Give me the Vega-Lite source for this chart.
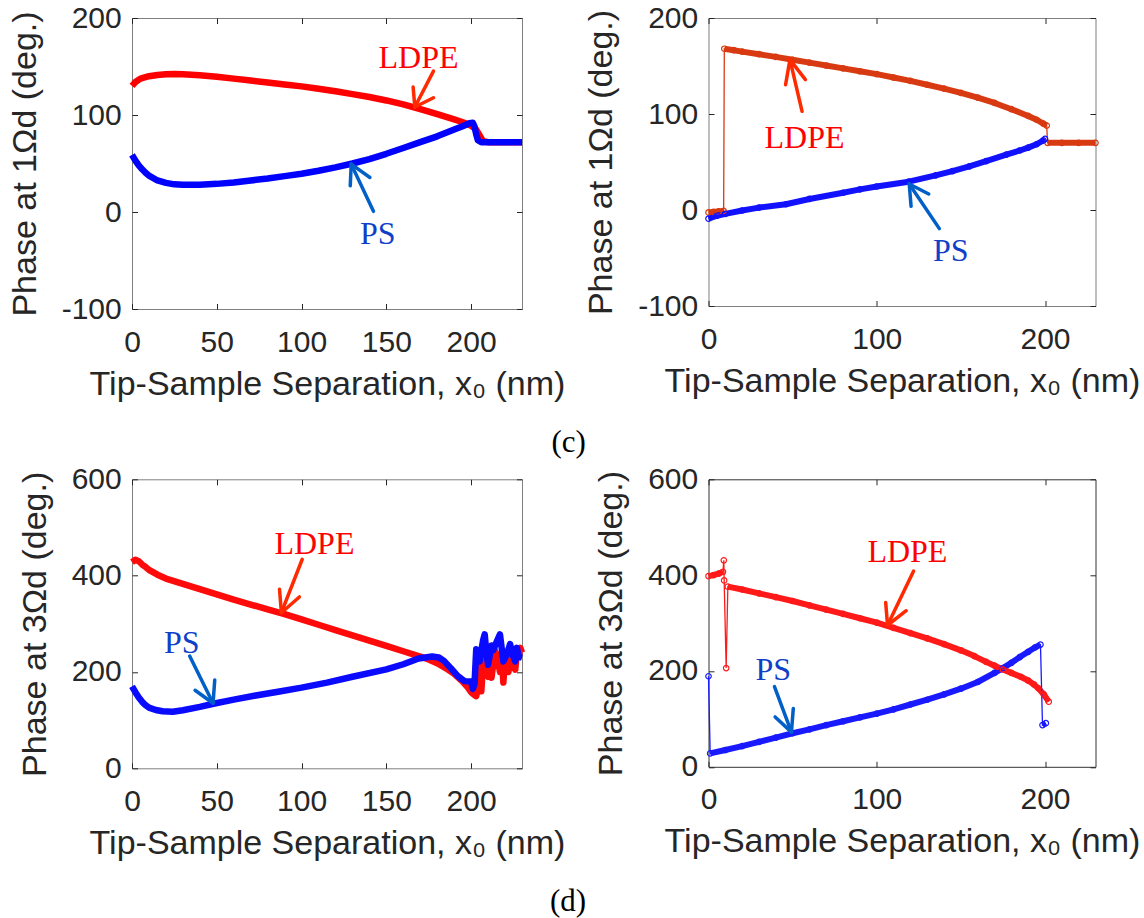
{
"$schema": "https://vega.github.io/schema/vega-lite/v6.json",
"background": "white",
"padding": {"left": 7, "top": 2, "right": 0, "bottom": 0},
"config": {
  "font": "Liberation Sans",
  "view": {"stroke": "#7f7f7f", "strokeWidth": 1},
  "axis": {"grid": false, "domain": false, "labelFlush": false, "labelFont": "Liberation Sans", "labelFontSize": 30, "labelColor": "#262626", "titleFont": "Liberation Sans", "titleFontSize": 34, "titleFontWeight": "normal", "titleColor": "#262626", "tickColor": "#262626", "tickSize": -5.5, "tickWidth": 1},
  "axisX": {"labelPadding": 23.5, "titlePadding": 10},
  "axisY": {"labelPadding": 16.3, "titlePadding": 19}
},
"datasets": {
  "c1": [
    {"m":"LDPE","s":1,"x":0,"y":130},{"m":"LDPE","s":1,"x":2,"y":134},{"m":"LDPE","s":1,"x":5,"y":137.5},{"m":"LDPE","s":1,"x":10,"y":140},{"m":"LDPE","s":1,"x":15,"y":141.3},{"m":"LDPE","s":1,"x":20,"y":142},{"m":"LDPE","s":1,"x":25,"y":142.2},{"m":"LDPE","s":1,"x":30,"y":142},{"m":"LDPE","s":1,"x":40,"y":141},{"m":"LDPE","s":1,"x":50,"y":139.5},{"m":"LDPE","s":1,"x":60,"y":137.5},{"m":"LDPE","s":1,"x":70,"y":135.5},{"m":"LDPE","s":1,"x":80,"y":133.5},{"m":"LDPE","s":1,"x":90,"y":131.5},{"m":"LDPE","s":1,"x":100,"y":129.5},{"m":"LDPE","s":1,"x":110,"y":127},{"m":"LDPE","s":1,"x":120,"y":124.5},{"m":"LDPE","s":1,"x":130,"y":121.5},{"m":"LDPE","s":1,"x":140,"y":118.5},{"m":"LDPE","s":1,"x":150,"y":115},{"m":"LDPE","s":1,"x":160,"y":111},{"m":"LDPE","s":1,"x":170,"y":106},{"m":"LDPE","s":1,"x":180,"y":101},{"m":"LDPE","s":1,"x":190,"y":95.5},{"m":"LDPE","s":1,"x":196,"y":92},{"m":"LDPE","s":1,"x":200,"y":89},{"m":"LDPE","s":1,"x":203,"y":85},{"m":"LDPE","s":1,"x":205,"y":79},{"m":"LDPE","s":1,"x":207,"y":73},{"m":"LDPE","s":1,"x":210,"y":72},{"m":"LDPE","s":1,"x":230,"y":72},
    {"m":"PS","s":2,"x":0,"y":59},{"m":"PS","s":2,"x":2,"y":53},{"m":"PS","s":2,"x":4,"y":48},{"m":"PS","s":2,"x":6,"y":44},{"m":"PS","s":2,"x":8,"y":40.5},{"m":"PS","s":2,"x":10,"y":37.5},{"m":"PS","s":2,"x":15,"y":32.5},{"m":"PS","s":2,"x":20,"y":30},{"m":"PS","s":2,"x":25,"y":28.5},{"m":"PS","s":2,"x":30,"y":28},{"m":"PS","s":2,"x":40,"y":28.2},{"m":"PS","s":2,"x":50,"y":29},{"m":"PS","s":2,"x":60,"y":30.5},{"m":"PS","s":2,"x":70,"y":32.5},{"m":"PS","s":2,"x":80,"y":34.5},{"m":"PS","s":2,"x":90,"y":37},{"m":"PS","s":2,"x":100,"y":39.5},{"m":"PS","s":2,"x":110,"y":42.5},{"m":"PS","s":2,"x":120,"y":46},{"m":"PS","s":2,"x":130,"y":50},{"m":"PS","s":2,"x":140,"y":54.5},{"m":"PS","s":2,"x":150,"y":60},{"m":"PS","s":2,"x":160,"y":66},{"m":"PS","s":2,"x":170,"y":72},{"m":"PS","s":2,"x":180,"y":78},{"m":"PS","s":2,"x":190,"y":85},{"m":"PS","s":2,"x":195,"y":88.5},{"m":"PS","s":2,"x":199,"y":91.5},{"m":"PS","s":2,"x":201,"y":92},{"m":"PS","s":2,"x":202,"y":88},{"m":"PS","s":2,"x":203,"y":80},{"m":"PS","s":2,"x":204,"y":74},{"m":"PS","s":2,"x":206,"y":72},{"m":"PS","s":2,"x":230,"y":72}
  ],
  "c2": [
    {"m":"LDPE","s":1,"x":0,"y":-2.5},{"m":"LDPE","s":1,"x":3,"y":-2},{"m":"LDPE","s":1,"x":6,"y":-1.5},{"m":"LDPE","s":1,"x":9,"y":-1},
    {"m":"LDPE","s":2,"x":9.4,"y":168},{"m":"LDPE","s":2,"x":15,"y":166.5},{"m":"LDPE","s":2,"x":20,"y":165},{"m":"LDPE","s":2,"x":30,"y":162.3},{"m":"LDPE","s":2,"x":40,"y":159.5},{"m":"LDPE","s":2,"x":50,"y":156.5},{"m":"LDPE","s":2,"x":60,"y":153.5},{"m":"LDPE","s":2,"x":70,"y":150.5},{"m":"LDPE","s":2,"x":80,"y":147.5},{"m":"LDPE","s":2,"x":90,"y":144.5},{"m":"LDPE","s":2,"x":100,"y":141.5},{"m":"LDPE","s":2,"x":110,"y":138},{"m":"LDPE","s":2,"x":120,"y":134.5},{"m":"LDPE","s":2,"x":130,"y":130.5},{"m":"LDPE","s":2,"x":140,"y":126.5},{"m":"LDPE","s":2,"x":150,"y":122},{"m":"LDPE","s":2,"x":160,"y":117},{"m":"LDPE","s":2,"x":170,"y":111.5},{"m":"LDPE","s":2,"x":180,"y":105},{"m":"LDPE","s":2,"x":190,"y":98},{"m":"LDPE","s":2,"x":195,"y":94},{"m":"LDPE","s":2,"x":199,"y":90},{"m":"LDPE","s":2,"x":201,"y":88},
    {"m":"LDPE","s":3,"x":201.5,"y":70},{"m":"LDPE","s":3,"x":210,"y":70},{"m":"LDPE","s":3,"x":220,"y":70},{"m":"LDPE","s":3,"x":230,"y":70},
    {"m":"PS","s":4,"x":0,"y":-9},{"m":"PS","s":4,"x":5,"y":-6},{"m":"PS","s":4,"x":10,"y":-4},{"m":"PS","s":4,"x":20,"y":-0.5},{"m":"PS","s":4,"x":30,"y":2.5},{"m":"PS","s":4,"x":46,"y":6},{"m":"PS","s":4,"x":60,"y":11.5},{"m":"PS","s":4,"x":80,"y":18},{"m":"PS","s":4,"x":90,"y":21.5},{"m":"PS","s":4,"x":100,"y":24.5},{"m":"PS","s":4,"x":119,"y":29.5},{"m":"PS","s":4,"x":135,"y":36},{"m":"PS","s":4,"x":145,"y":40.5},{"m":"PS","s":4,"x":155,"y":45.5},{"m":"PS","s":4,"x":165,"y":51},{"m":"PS","s":4,"x":177,"y":57.6},{"m":"PS","s":4,"x":185,"y":62},{"m":"PS","s":4,"x":190,"y":65},{"m":"PS","s":4,"x":195,"y":68.5},{"m":"PS","s":4,"x":199,"y":72.5},{"m":"PS","s":4,"x":200,"y":74}
  ],
  "d1": [
    {"m":"LDPE","s":1,"x":0,"y":428},{"m":"LDPE","s":1,"x":2,"y":433},{"m":"LDPE","s":1,"x":4,"y":430},{"m":"LDPE","s":1,"x":6,"y":423},{"m":"LDPE","s":1,"x":8,"y":418},{"m":"LDPE","s":1,"x":10,"y":412},{"m":"LDPE","s":1,"x":15,"y":402},{"m":"LDPE","s":1,"x":20,"y":394},{"m":"LDPE","s":1,"x":30,"y":383},{"m":"LDPE","s":1,"x":40,"y":372},{"m":"LDPE","s":1,"x":50,"y":361},{"m":"LDPE","s":1,"x":60,"y":350},{"m":"LDPE","s":1,"x":70,"y":340},{"m":"LDPE","s":1,"x":80,"y":330},{"m":"LDPE","s":1,"x":90,"y":320},{"m":"LDPE","s":1,"x":100,"y":309},{"m":"LDPE","s":1,"x":110,"y":298},{"m":"LDPE","s":1,"x":120,"y":287},{"m":"LDPE","s":1,"x":130,"y":276},{"m":"LDPE","s":1,"x":140,"y":265},{"m":"LDPE","s":1,"x":150,"y":254},{"m":"LDPE","s":1,"x":160,"y":243},{"m":"LDPE","s":1,"x":170,"y":232},{"m":"LDPE","s":1,"x":175,"y":226},{"m":"LDPE","s":1,"x":180,"y":218},{"m":"LDPE","s":1,"x":185,"y":208},{"m":"LDPE","s":1,"x":190,"y":196},{"m":"LDPE","s":1,"x":195,"y":180},{"m":"LDPE","s":1,"x":198,"y":168},{"m":"LDPE","s":1,"x":200,"y":158},{"m":"LDPE","s":1,"x":202,"y":152},{"m":"LDPE","s":1,"x":203,"y":150},{"m":"LDPE","s":1,"x":204,"y":165},{"m":"LDPE","s":1,"x":205,"y":245},{"m":"LDPE","s":1,"x":206,"y":160},{"m":"LDPE","s":1,"x":207,"y":215},{"m":"LDPE","s":1,"x":208,"y":250},{"m":"LDPE","s":1,"x":209,"y":200},{"m":"LDPE","s":1,"x":210,"y":190},{"m":"LDPE","s":1,"x":211,"y":235},{"m":"LDPE","s":1,"x":212,"y":188},{"m":"LDPE","s":1,"x":213,"y":215},{"m":"LDPE","s":1,"x":214,"y":245},{"m":"LDPE","s":1,"x":216,"y":220},{"m":"LDPE","s":1,"x":217,"y":200},{"m":"LDPE","s":1,"x":218,"y":240},{"m":"LDPE","s":1,"x":219,"y":178},{"m":"LDPE","s":1,"x":220,"y":230},{"m":"LDPE","s":1,"x":221,"y":215},{"m":"LDPE","s":1,"x":222,"y":200},{"m":"LDPE","s":1,"x":223,"y":245},{"m":"LDPE","s":1,"x":224,"y":230},{"m":"LDPE","s":1,"x":225,"y":210},{"m":"LDPE","s":1,"x":226,"y":205},{"m":"LDPE","s":1,"x":227,"y":240},{"m":"LDPE","s":1,"x":228,"y":230},{"m":"LDPE","s":1,"x":229,"y":250},{"m":"LDPE","s":1,"x":230,"y":240},
    {"m":"PS","s":2,"x":0,"y":170},{"m":"PS","s":2,"x":2,"y":158},{"m":"PS","s":2,"x":4,"y":147},{"m":"PS","s":2,"x":6,"y":138},{"m":"PS","s":2,"x":8,"y":131},{"m":"PS","s":2,"x":10,"y":126},{"m":"PS","s":2,"x":14,"y":121},{"m":"PS","s":2,"x":18,"y":118.5},{"m":"PS","s":2,"x":24,"y":117.5},{"m":"PS","s":2,"x":30,"y":120.5},{"m":"PS","s":2,"x":40,"y":127.5},{"m":"PS","s":2,"x":48,"y":134},{"m":"PS","s":2,"x":60,"y":142.5},{"m":"PS","s":2,"x":73,"y":151},{"m":"PS","s":2,"x":87,"y":159.5},{"m":"PS","s":2,"x":100,"y":167.5},{"m":"PS","s":2,"x":115,"y":178},{"m":"PS","s":2,"x":130,"y":190},{"m":"PS","s":2,"x":150,"y":205.5},{"m":"PS","s":2,"x":160,"y":216},{"m":"PS","s":2,"x":169,"y":228},{"m":"PS","s":2,"x":177,"y":232},{"m":"PS","s":2,"x":181,"y":230},{"m":"PS","s":2,"x":184,"y":223},{"m":"PS","s":2,"x":188,"y":208},{"m":"PS","s":2,"x":192,"y":192},{"m":"PS","s":2,"x":196,"y":181},{"m":"PS","s":2,"x":200,"y":180},{"m":"PS","s":2,"x":201,"y":165},{"m":"PS","s":2,"x":202,"y":175},{"m":"PS","s":2,"x":203,"y":247},{"m":"PS","s":2,"x":205,"y":222},{"m":"PS","s":2,"x":207,"y":265},{"m":"PS","s":2,"x":208,"y":278},{"m":"PS","s":2,"x":209,"y":240},{"m":"PS","s":2,"x":210,"y":215},{"m":"PS","s":2,"x":212,"y":255},{"m":"PS","s":2,"x":213,"y":245},{"m":"PS","s":2,"x":215,"y":262},{"m":"PS","s":2,"x":217,"y":278},{"m":"PS","s":2,"x":218,"y":250},{"m":"PS","s":2,"x":219,"y":222},{"m":"PS","s":2,"x":221,"y":236},{"m":"PS","s":2,"x":223,"y":258},{"m":"PS","s":2,"x":224,"y":240},{"m":"PS","s":2,"x":226,"y":222},{"m":"PS","s":2,"x":227,"y":250},{"m":"PS","s":2,"x":228,"y":232},{"m":"PS","s":2,"x":230,"y":230}
  ],
  "d2": [
    {"m":"PS","s":1,"x":0,"y":189},
    {"m":"PS","s":2,"x":1,"y":28},{"m":"PS","s":2,"x":10,"y":35},{"m":"PS","s":2,"x":20,"y":43},{"m":"PS","s":2,"x":30,"y":52},{"m":"PS","s":2,"x":40,"y":61},{"m":"PS","s":2,"x":50,"y":70},{"m":"PS","s":2,"x":60,"y":78},{"m":"PS","s":2,"x":70,"y":87},{"m":"PS","s":2,"x":80,"y":95},{"m":"PS","s":2,"x":90,"y":103},{"m":"PS","s":2,"x":100,"y":111},{"m":"PS","s":2,"x":110,"y":120},{"m":"PS","s":2,"x":120,"y":130},{"m":"PS","s":2,"x":130,"y":140},{"m":"PS","s":2,"x":140,"y":151},{"m":"PS","s":2,"x":150,"y":163},{"m":"PS","s":2,"x":160,"y":177},{"m":"PS","s":2,"x":170,"y":196},{"m":"PS","s":2,"x":175,"y":206},{"m":"PS","s":2,"x":180,"y":217},{"m":"PS","s":2,"x":185,"y":229},{"m":"PS","s":2,"x":190,"y":240},{"m":"PS","s":2,"x":194,"y":249},{"m":"PS","s":2,"x":197.3,"y":255},
    {"m":"PS","s":3,"x":198.5,"y":87},{"m":"PS","s":3,"x":200.5,"y":91},
    {"m":"LDPE","s":4,"x":0,"y":398},{"m":"LDPE","s":4,"x":3,"y":400},{"m":"LDPE","s":4,"x":6,"y":403},{"m":"LDPE","s":4,"x":8.6,"y":407},
    {"m":"LDPE","s":5,"x":9.1,"y":431},{"m":"LDPE","s":6,"x":9.3,"y":389},{"m":"LDPE","s":7,"x":10.5,"y":206},
    {"m":"LDPE","s":8,"x":11.5,"y":376},{"m":"LDPE","s":8,"x":20,"y":370},{"m":"LDPE","s":8,"x":30,"y":362},{"m":"LDPE","s":8,"x":40,"y":354},{"m":"LDPE","s":8,"x":50,"y":346},{"m":"LDPE","s":8,"x":60,"y":337},{"m":"LDPE","s":8,"x":70,"y":328},{"m":"LDPE","s":8,"x":80,"y":319},{"m":"LDPE","s":8,"x":90,"y":310},{"m":"LDPE","s":8,"x":100,"y":301},{"m":"LDPE","s":8,"x":110,"y":290},{"m":"LDPE","s":8,"x":120,"y":279},{"m":"LDPE","s":8,"x":130,"y":268},{"m":"LDPE","s":8,"x":140,"y":256},{"m":"LDPE","s":8,"x":150,"y":243},{"m":"LDPE","s":8,"x":158,"y":231},{"m":"LDPE","s":8,"x":165,"y":219},{"m":"LDPE","s":8,"x":170,"y":211},{"m":"LDPE","s":8,"x":175,"y":203},{"m":"LDPE","s":8,"x":180,"y":196},{"m":"LDPE","s":8,"x":185.5,"y":188},{"m":"LDPE","s":8,"x":190,"y":180},{"m":"LDPE","s":8,"x":193.4,"y":172},{"m":"LDPE","s":8,"x":196,"y":164},{"m":"LDPE","s":8,"x":199.3,"y":151},{"m":"LDPE","s":8,"x":202.2,"y":136}
  ],
  "arrows": [
    {"p":1,"m":"LDPE","x":177.8,"y":145.2,"x2":166.8,"y2":108.2},{"p":1,"m":"LDPE","x":166.8,"y":108.2,"x2":165.8,"y2":128.8},{"p":1,"m":"LDPE","x":166.8,"y":108.2,"x2":177.8,"y2":117.8},
    {"p":1,"m":"PS","x":142.4,"y":0.7,"x2":129.3,"y2":49.3},{"p":1,"m":"PS","x":129.3,"y":49.3,"x2":128.7,"y2":27},{"p":1,"m":"PS","x":129.3,"y":49.3,"x2":140.3,"y2":35.6},
    {"p":2,"m":"LDPE","x":55.6,"y":102.8,"x2":48.4,"y2":156.6},{"p":2,"m":"LDPE","x":48.4,"y":156.6,"x2":45.8,"y2":130.5},{"p":2,"m":"LDPE","x":48.4,"y":156.6,"x2":57.6,"y2":135.8},
    {"p":2,"m":"PS","x":137.2,"y":-19.4,"x2":119.3,"y2":27.1},{"p":2,"m":"PS","x":119.3,"y":27.1,"x2":120.4,"y2":3.8},{"p":2,"m":"PS","x":119.3,"y":27.1,"x2":130.9,"y2":16.7},
    {"p":3,"m":"LDPE","x":100.4,"y":434,"x2":88.1,"y2":323},{"p":3,"m":"LDPE","x":88.1,"y":323,"x2":87,"y2":371.6},{"p":3,"m":"LDPE","x":88.1,"y":323,"x2":98.7,"y2":355.7},
    {"p":3,"m":"PS","x":34,"y":233,"x2":47.8,"y2":135},{"p":3,"m":"PS","x":47.8,"y":135,"x2":37.2,"y2":162},{"p":3,"m":"PS","x":47.8,"y":135,"x2":48.8,"y2":183.4},
    {"p":4,"m":"LDPE","x":121.9,"y":408.7,"x2":106.4,"y2":295.4},{"p":4,"m":"LDPE","x":106.4,"y":295.4,"x2":105.3,"y2":343},{"p":4,"m":"LDPE","x":106.4,"y":295.4,"x2":117.5,"y2":325.7},
    {"p":4,"m":"PS","x":39.2,"y":167.4,"x2":49.3,"y2":72.4},{"p":4,"m":"PS","x":49.3,"y":72.4,"x2":39.6,"y2":104},{"p":4,"m":"PS","x":49.3,"y":72.4,"x2":50.4,"y2":121.7}
  ],
  "labels": [
    {"p":1,"m":"LDPE","x":169,"y":159},{"p":1,"m":"PS","x":145,"y":-22.6},
    {"p":2,"m":"LDPE","x":57.1,"y":75},{"p":2,"m":"PS","x":144,"y":-43},
    {"p":3,"m":"LDPE","x":107.6,"y":466},{"p":3,"m":"PS","x":29.3,"y":261},
    {"p":4,"m":"LDPE","x":118.2,"y":448.8},{"p":4,"m":"PS","x":38.5,"y":202.6}
  ]
},
"bounds": "flush",
"columns": 2,
"spacing": {"row": 170.3, "column": 186.5},
"concat": [
   {
    "width": 390, "height": 291,
    "title": {"text": "(c)", "orient": "bottom", "anchor": "middle", "frame": "group", "offset": 27, "dx": 241.6, "font": "Liberation Serif", "fontSize": 31, "fontWeight": "normal", "color": "#000000"},
    "resolve": {"axis": {"x": "independent", "y": "independent"}},
    "layer": [
     {"data": {"name": "c1"}, "mark": {"type": "line", "strokeWidth": 6.5, "strokeJoin": "round"},
      "encoding": {
       "x": {"field": "x", "type": "quantitative", "scale": {"domain": [0, 230], "nice": false, "zero": false}, "axis": {"values": [0, 50, 100, 150, 200], "title": "Tip-Sample Separation, x₀ (nm)"}},
       "y": {"field": "y", "type": "quantitative", "scale": {"domain": [-100, 200], "nice": false, "zero": false}, "axis": {"values": [-100, 0, 100, 200], "labelExpr": "'' + datum.value", "title": "Phase at 1Ωd (deg.)"}},
       "color": {"condition": {"test": "datum.m == 'LDPE'", "value": "#ff0000"}, "value": "#0000ff"},
       "detail": {"field": "s", "type": "nominal"}
      }},
     {"data": {"name": "arrows"}, "transform": [{"filter": "datum.p == 1"}], "mark": {"type": "rule", "strokeWidth": 3.5, "strokeCap": "round"},
      "encoding": {
       "x": {"field": "x", "type": "quantitative", "axis": {"orient": "top", "labels": false, "title": null, "values": [0, 50, 100, 150, 200]}},
       "y": {"field": "y", "type": "quantitative", "axis": {"orient": "right", "labels": false, "title": null, "values": [-100, 0, 100, 200]}},
       "x2": {"field": "x2"}, "y2": {"field": "y2"},
       "color": {"condition": {"test": "datum.m == 'LDPE'", "value": "#ff2a00"}, "value": "#0060c8"}
      }},
     {"data": {"name": "labels"}, "transform": [{"filter": "datum.p == 1"}], "mark": {"type": "text", "font": "Liberation Serif", "fontSize": 32, "align": "center", "baseline": "middle"},
      "encoding": {
       "x": {"field": "x", "type": "quantitative", "axis": null},
       "y": {"field": "y", "type": "quantitative", "axis": null},
       "text": {"field": "m"},
       "color": {"condition": {"test": "datum.m == 'LDPE'", "value": "#ff0000"}, "value": "#1040c8"}
      }}
    ]
   },
   {
    "width": 387, "height": 288,
    "resolve": {"axis": {"x": "independent", "y": "independent"}},
    "layer": [
     {"data": {"name": "c2"}, "mark": {"type": "line", "strokeWidth": 6, "strokeJoin": "round"},
      "encoding": {
       "x": {"field": "x", "type": "quantitative", "scale": {"domain": [0, 230], "nice": false, "zero": false}, "axis": {"values": [0, 100, 200], "title": "Tip-Sample Separation, x₀ (nm)"}},
       "y": {"field": "y", "type": "quantitative", "scale": {"domain": [-100, 200], "nice": false, "zero": false}, "axis": {"values": [-100, 0, 100, 200], "labelExpr": "'' + datum.value", "title": "Phase at 1Ωd (deg.)"}},
       "color": {"condition": {"test": "datum.m == 'LDPE'", "value": "#d83a12"}, "value": "#1212ff"},
       "detail": {"field": "s", "type": "nominal"}
      }},
     {"data": {"name": "c2"}, "mark": {"type": "line", "strokeWidth": 1.3},
      "encoding": {
       "x": {"field": "x", "type": "quantitative", "axis": null},
       "y": {"field": "y", "type": "quantitative", "axis": null},
       "color": {"condition": {"test": "datum.m == 'LDPE'", "value": "#d83a12"}, "value": "#1212ff"},
       "detail": {"field": "m", "type": "nominal"}
      }},
     {"data": {"name": "c2"}, "mark": {"type": "point", "filled": false, "size": 30, "strokeWidth": 1.2, "opacity": 1},
      "encoding": {
       "x": {"field": "x", "type": "quantitative", "axis": null},
       "y": {"field": "y", "type": "quantitative", "axis": null},
       "color": {"condition": {"test": "datum.m == 'LDPE'", "value": "#d83a12"}, "value": "#1212ff"}
      }},
     {"data": {"name": "arrows"}, "transform": [{"filter": "datum.p == 2"}], "mark": {"type": "rule", "strokeWidth": 3.5, "strokeCap": "round"},
      "encoding": {
       "x": {"field": "x", "type": "quantitative", "axis": {"orient": "top", "labels": false, "title": null, "values": [0, 100, 200]}},
       "y": {"field": "y", "type": "quantitative", "axis": {"orient": "right", "labels": false, "title": null, "values": [-100, 0, 100, 200]}},
       "x2": {"field": "x2"}, "y2": {"field": "y2"},
       "color": {"condition": {"test": "datum.m == 'LDPE'", "value": "#ff2a00"}, "value": "#0060c8"}
      }},
     {"data": {"name": "labels"}, "transform": [{"filter": "datum.p == 2"}], "mark": {"type": "text", "font": "Liberation Serif", "fontSize": 32, "align": "center", "baseline": "middle"},
      "encoding": {
       "x": {"field": "x", "type": "quantitative", "axis": null},
       "y": {"field": "y", "type": "quantitative", "axis": null},
       "text": {"field": "m"},
       "color": {"condition": {"test": "datum.m == 'LDPE'", "value": "#ff0000"}, "value": "#1040c8"}
      }}
    ]
   },
   {
    "width": 390, "height": 289,
    "title": {"text": "(d)", "orient": "bottom", "anchor": "middle", "frame": "group", "offset": 27, "dx": 241, "font": "Liberation Serif", "fontSize": 31, "fontWeight": "normal", "color": "#000000"},
    "resolve": {"axis": {"x": "independent", "y": "independent"}},
    "layer": [
     {"data": {"name": "d1"}, "mark": {"type": "line", "strokeWidth": 6.5, "strokeJoin": "round"},
      "encoding": {
       "x": {"field": "x", "type": "quantitative", "scale": {"domain": [0, 230], "nice": false, "zero": false}, "axis": {"values": [0, 50, 100, 150, 200], "title": "Tip-Sample Separation, x₀ (nm)"}},
       "y": {"field": "y", "type": "quantitative", "scale": {"domain": [0, 600], "nice": false}, "axis": {"values": [0, 200, 400, 600], "title": "Phase at 3Ωd (deg.)"}},
       "color": {"condition": {"test": "datum.m == 'LDPE'", "value": "#ff0a0a"}, "value": "#0a0aff"},
       "detail": {"field": "s", "type": "nominal"}
      }},
     {"data": {"name": "arrows"}, "transform": [{"filter": "datum.p == 3"}], "mark": {"type": "rule", "strokeWidth": 3.5, "strokeCap": "round"},
      "encoding": {
       "x": {"field": "x", "type": "quantitative", "axis": {"orient": "top", "labels": false, "title": null, "values": [0, 50, 100, 150, 200]}},
       "y": {"field": "y", "type": "quantitative", "axis": {"orient": "right", "labels": false, "title": null, "values": [0, 200, 400, 600]}},
       "x2": {"field": "x2"}, "y2": {"field": "y2"},
       "color": {"condition": {"test": "datum.m == 'LDPE'", "value": "#ff2a00"}, "value": "#0060c8"}
      }},
     {"data": {"name": "labels"}, "transform": [{"filter": "datum.p == 3"}], "mark": {"type": "text", "font": "Liberation Serif", "fontSize": 32, "align": "center", "baseline": "middle"},
      "encoding": {
       "x": {"field": "x", "type": "quantitative", "axis": null},
       "y": {"field": "y", "type": "quantitative", "axis": null},
       "text": {"field": "m"},
       "color": {"condition": {"test": "datum.m == 'LDPE'", "value": "#ff0000"}, "value": "#1040c8"}
      }}
    ]
   },
   {
    "width": 387, "height": 287.5,
    "view": {"stroke": "#333333"},
    "resolve": {"axis": {"x": "independent", "y": "independent"}},
    "layer": [
     {"data": {"name": "d2"}, "mark": {"type": "line", "strokeWidth": 6, "strokeJoin": "round"},
      "encoding": {
       "x": {"field": "x", "type": "quantitative", "scale": {"domain": [0, 230], "nice": false, "zero": false}, "axis": {"values": [0, 100, 200], "title": "Tip-Sample Separation, x₀ (nm)"}},
       "y": {"field": "y", "type": "quantitative", "scale": {"domain": [0, 600], "nice": false}, "axis": {"values": [0, 200, 400, 600], "title": "Phase at 3Ωd (deg.)"}},
       "color": {"condition": {"test": "datum.m == 'LDPE'", "value": "#ff1a1a"}, "value": "#1a1aff"},
       "detail": {"field": "s", "type": "nominal"}
      }},
     {"data": {"name": "d2"}, "mark": {"type": "line", "strokeWidth": 1.3},
      "encoding": {
       "x": {"field": "x", "type": "quantitative", "axis": null},
       "y": {"field": "y", "type": "quantitative", "axis": null},
       "color": {"condition": {"test": "datum.m == 'LDPE'", "value": "#ff1a1a"}, "value": "#1a1aff"},
       "detail": {"field": "m", "type": "nominal"}
      }},
     {"data": {"name": "d2"}, "mark": {"type": "point", "filled": false, "size": 30, "strokeWidth": 1.2, "opacity": 1},
      "encoding": {
       "x": {"field": "x", "type": "quantitative", "axis": null},
       "y": {"field": "y", "type": "quantitative", "axis": null},
       "color": {"condition": {"test": "datum.m == 'LDPE'", "value": "#ff1a1a"}, "value": "#1a1aff"}
      }},
     {"data": {"name": "arrows"}, "transform": [{"filter": "datum.p == 4"}], "mark": {"type": "rule", "strokeWidth": 3.5, "strokeCap": "round"},
      "encoding": {
       "x": {"field": "x", "type": "quantitative", "axis": {"orient": "top", "labels": false, "title": null, "values": [0, 100, 200]}},
       "y": {"field": "y", "type": "quantitative", "axis": {"orient": "right", "labels": false, "title": null, "values": [0, 200, 400, 600]}},
       "x2": {"field": "x2"}, "y2": {"field": "y2"},
       "color": {"condition": {"test": "datum.m == 'LDPE'", "value": "#ff2a00"}, "value": "#0060c8"}
      }},
     {"data": {"name": "labels"}, "transform": [{"filter": "datum.p == 4"}], "mark": {"type": "text", "font": "Liberation Serif", "fontSize": 32, "align": "center", "baseline": "middle"},
      "encoding": {
       "x": {"field": "x", "type": "quantitative", "axis": null},
       "y": {"field": "y", "type": "quantitative", "axis": null},
       "text": {"field": "m"},
       "color": {"condition": {"test": "datum.m == 'LDPE'", "value": "#ff0000"}, "value": "#1040c8"}
      }}
    ]
   }
]
}
